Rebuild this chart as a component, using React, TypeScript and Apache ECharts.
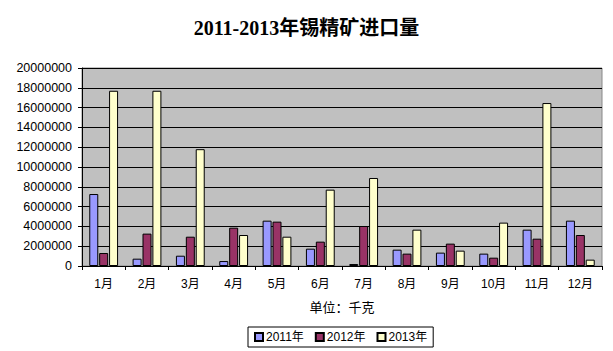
import React, { useEffect, useRef } from "react";
import * as echarts from "echarts";

const months = ["1月", "2月", "3月", "4月", "5月", "6月", "7月", "8月", "9月", "10月", "11月", "12月"];
const s2011 = [7270000, 740000, 1040000, 500000, 4580000, 1750000, 200000, 1650000, 1350000, 1250000, 3670000, 4580000];
const s2012 = [1310000, 3270000, 2960000, 3870000, 4480000, 2460000, 4040000, 1250000, 2260000, 840000, 2760000, 3130000];
const s2013 = [17700000, 17700000, 11800000, 3130000, 2960000, 7710000, 8890000, 3670000, 1550000, 4380000, 16460000, 640000];
const seriesNames = ["2011年", "2012年", "2013年"];
const colors = ["#9999FF", "#993366", "#FFFFCC"];

export default function App() {
  const ref = useRef<HTMLDivElement>(null);
  useEffect(() => {
    const chart = echarts.init(ref.current!, undefined, { renderer: "svg" });
    const font = "'Liberation Sans', 'Noto Sans CJK SC', sans-serif";
    const data = [s2011, s2012, s2013];
    chart.setOption({
      animation: false,
      backgroundColor: "#ffffff",
      title: {
        text: "2011-2013年锡精矿进口量",
        left: "center",
        top: 13,
        textStyle: { fontSize: 20, fontWeight: "bold", color: "#000", fontFamily: "'Liberation Serif', 'Noto Sans CJK SC', serif" },
      },
      legend: {
        data: seriesNames,
        left: 248,
        top: 327,
        orient: "horizontal",
        icon: "rect",
        itemWidth: 8,
        itemHeight: 8,
        itemGap: 11,
        padding: [4, 6, 4, 6],
        borderColor: "#000",
        borderWidth: 1,
        textStyle: { fontSize: 12, color: "#000", fontFamily: font, padding: [0, 0, 0, -2] },
      },
      grid: {
        left: 82,
        top: 68,
        right: 11,
        height: 198,
        show: true,
        backgroundColor: "#C0C0C0",
        borderColor: "#888",
        borderWidth: 1,
      },
      xAxis: {
        type: "category",
        data: months,
        name: "单位：千克",
        nameLocation: "middle",
        nameGap: 35,
        nameTextStyle: { fontSize: 13, color: "#000", fontFamily: font },
        axisLine: { lineStyle: { color: "#000", width: 1 } },
        axisTick: { show: true, length: 4, inside: false, lineStyle: { color: "#000" } },
        axisLabel: { fontSize: 12, color: "#000", margin: 12, fontFamily: font },
      },
      yAxis: {
        type: "value",
        min: 0,
        max: 20000000,
        interval: 2000000,
        axisLine: { show: true, lineStyle: { color: "#000" } },
        axisTick: { show: true, length: 4, lineStyle: { color: "#000" } },
        axisLabel: { fontSize: 12.5, color: "#000", margin: 10, fontFamily: font, formatter: (v: number) => String(v) },
        splitLine: { show: true, lineStyle: { color: "#000", width: 1 } },
      },
      series: seriesNames.map((n, i) => ({
        name: n,
        type: "bar",
        data: data[i],
        barWidth: 9,
        barGap: "10%",
        itemStyle: { color: colors[i], borderColor: "#000", borderWidth: 1 },
      })),
    });
    return () => chart.dispose();
  }, []);
  return <div ref={ref} style={{ position: "absolute", left: 0, top: 0, width: 613, height: 351 }} />;
}
